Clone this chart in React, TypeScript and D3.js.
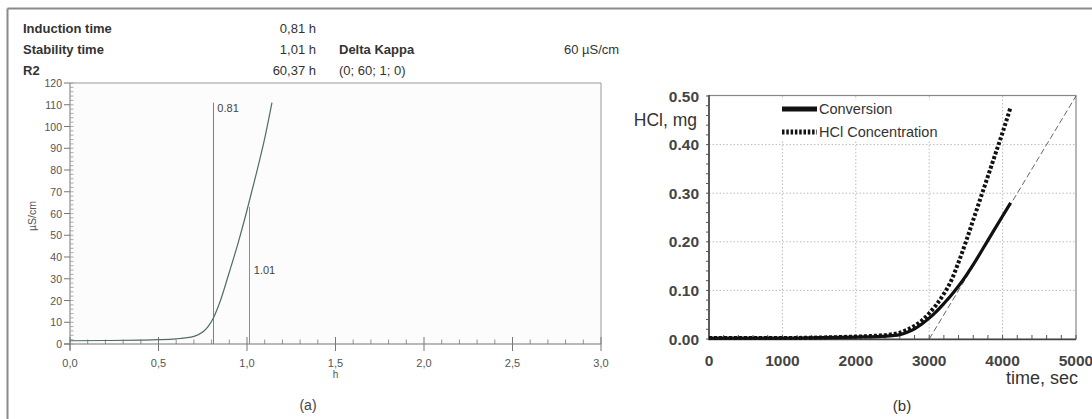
import React from "react";
import * as d3 from "d3";

// ---------- Panel (a) data ----------
const aHours = [0, 0.2, 0.4, 0.5, 0.6, 0.65, 0.7, 0.75, 0.78, 0.81, 0.85, 0.9, 0.95, 1.0, 1.05, 1.1, 1.141];
const aKappa = [1.5, 1.6, 1.8, 2.0, 2.4, 2.8, 3.5, 5.5, 8.0, 12, 20, 33, 46.5, 61.5, 77.5, 94.5, 111];
const aXTicks = [0, 0.5, 1.0, 1.5, 2.0, 2.5, 3.0];
const aXTickLabels = ["0,0", "0,5", "1,0", "1,5", "2,0", "2,5", "3,0"];
const aYTicks = [0, 10, 20, 30, 40, 50, 60, 70, 80, 90, 100, 110, 120];
const aMarkers = [
  { x: 0.81, top: 111, label: "0.81" },
  { x: 1.01, top: 63, label: "1.01" },
];
const headerRows = [
  { label: "Induction time", value: "0,81 h", label2: "", value2: "" },
  { label: "Stability time", value: "1,01 h", label2: "Delta Kappa", value2: "60 µS/cm" },
  { label: "R2", value: "60,37 h", label2: "(0; 60; 1; 0)", value2: "" },
];

// ---------- Panel (b) data ----------
const bTime = [0, 500, 1000, 1500, 2000, 2300, 2500, 2600, 2700, 2800, 2900, 3000, 3100, 3200, 3300, 3400, 3500, 3600, 3800, 4000, 4109];
const bConversion = [0.002, 0.002, 0.002, 0.003, 0.004, 0.005, 0.007, 0.009, 0.014, 0.021, 0.031, 0.043, 0.057, 0.073, 0.09, 0.109, 0.13, 0.153, 0.203, 0.253, 0.28];
const hTime = [0, 500, 1000, 1500, 2000, 2300, 2500, 2600, 2700, 2800, 2900, 3000, 3100, 3200, 3300, 3400, 3500, 3600, 3700, 3800, 3900, 4000, 4109];
const hHCl = [0.002, 0.002, 0.002, 0.003, 0.005, 0.007, 0.01, 0.013, 0.019, 0.027, 0.038, 0.053, 0.071, 0.093, 0.12, 0.158, 0.2, 0.245, 0.29, 0.335, 0.38, 0.425, 0.477];
const tangentX = [3000, 5000];
const tangentY = [0, 0.5];
const bXTicks = [0, 1000, 2000, 3000, 4000, 5000];
const bYTicks = [0, 0.1, 0.2, 0.3, 0.4, 0.5];
const legendItems = ["Conversion", "HCl Concentration"];

export default function App() {
  // scales (a)
  const ax = d3.scaleLinear().domain([0, 3]).range([70, 601]);
  const ay = d3.scaleLinear().domain([0, 120]).range([344, 83]);
  const aLine = d3
    .line<number>()
    .x((_, i) => ax(aHours[i]))
    .y((d) => ay(d))
    .curve(d3.curveMonotoneX);

  // scales (b)
  const bx = d3.scaleLinear().domain([0, 5000]).range([709, 1076]);
  const by = d3.scaleLinear().domain([0, 0.5]).range([339, 96]);
  const convLine = d3
    .line<number>()
    .x((_, i) => bx(bTime[i]))
    .y((d) => by(d))
    .curve(d3.curveMonotoneX);
  const hclLine = d3
    .line<number>()
    .x((_, i) => bx(hTime[i]))
    .y((d) => by(d))
    .curve(d3.curveMonotoneX);

  const aMinorX = d3.range(0, 31).map((i) => i / 10).filter((v) => Math.round(v * 10) % 5 !== 0);
  const aMinorY = d3.range(0, 61).map((i) => i * 2);
  const bMinorX = d3.range(0, 26).map((i) => i * 200);
  const bMinorY = d3.range(0, 26).map((i) => i * 0.02);

  const font = "'Liberation Sans', Arial, sans-serif";
  const rowY = [33, 54, 75];

  return (
    <svg
      width={1092}
      height={419}
      style={{ position: "absolute", left: 0, top: 0, background: "#fff" }}
      fontFamily={font}
    >
      {/* outer frame */}
      <line x1={7.5} y1={8.5} x2={1092} y2={8.5} stroke="#8a8a8a" strokeWidth={2} />
      <line x1={7.5} y1={8.5} x2={7.5} y2={419} stroke="#8a8a8a" strokeWidth={2} />

      {/* header */}
      {headerRows.map((r, i) => (
        <g key={i} fontSize={13} fill="#333">
          <text x={23} y={rowY[i]} fontWeight="bold">{r.label}</text>
          <text x={316} y={rowY[i]} textAnchor="end">{r.value}</text>
          {r.label2 && (
            <text x={339} y={rowY[i]} fontWeight={i === 1 ? "bold" : "normal"}>{r.label2}</text>
          )}
          {r.value2 && <text x={564} y={rowY[i]}>{r.value2}</text>}
        </g>
      ))}

      {/* ---------- Panel (a) ---------- */}
      <rect x={70} y={83} width={531} height={261} fill="#fcfcfc" />
      <line x1={70} y1={83} x2={601} y2={83} stroke="#999" />
      <line x1={601} y1={83} x2={601} y2={344} stroke="#999" />
      <line x1={70} y1={83} x2={70} y2={350} stroke="#777" />
      <line x1={64} y1={344} x2={601} y2={344} stroke="#777" />
      {aMinorY.map((v) => (
        <line key={"amy" + v} x1={70} x2={73.5} y1={ay(v)} y2={ay(v)} stroke="#999" strokeWidth={0.8} />
      ))}
      {aYTicks.map((v) => (
        <g key={"ay" + v}>
          <line x1={64} x2={70} y1={ay(v)} y2={ay(v)} stroke="#777" />
          <text x={62} y={ay(v) + 4} textAnchor="end" fontSize={10.5} fill="#555">{v}</text>
        </g>
      ))}
      {aMinorX.map((v) => (
        <line key={"amx" + v} x1={ax(v)} x2={ax(v)} y1={344} y2={339.5} stroke="#777" strokeWidth={0.8} />
      ))}
      {aXTicks.map((v, i) => (
        <g key={"ax" + v}>
          <line x1={ax(v)} x2={ax(v)} y1={337} y2={351} stroke="#777" />
          <text x={ax(v)} y={367} textAnchor="middle" fontSize={11} fill="#555">{aXTickLabels[i]}</text>
        </g>
      ))}
      <text x={ax(1.5)} y={378} textAnchor="middle" fontSize={10} fill="#555">h</text>
      <text
        transform={`translate(36,${216}) rotate(-90)`}
        textAnchor="middle"
        fontSize={10.5}
        fill="#555"
      >
        µS/cm
      </text>
      {/* markers */}
      <rect
        x={Math.round(ax(aMarkers[0].x))}
        y={ay(aMarkers[0].top)}
        width={1}
        height={344 - ay(aMarkers[0].top)}
        fill="#e65555"
      />
      <rect
        x={Math.round(ax(aMarkers[1].x))}
        y={ay(aMarkers[1].top)}
        width={1}
        height={344 - ay(aMarkers[1].top)}
        fill="#8c8c8c"
      />
      <text x={ax(aMarkers[0].x) + 4} y={112} fontSize={11} fill="#444">{aMarkers[0].label}</text>
      <text x={ax(aMarkers[1].x) + 5} y={274} fontSize={11} fill="#444">{aMarkers[1].label}</text>
      <path d={aLine(aKappa) || ""} fill="none" stroke="#4d6e60" strokeWidth={1.2} />
      <text x={308} y={410} textAnchor="middle" fontSize={14} fill="#444">(a)</text>

      {/* ---------- Panel (b) ---------- */}
      {/* grid */}
      {[1000, 2000, 3000, 4000].map((v) => (
        <line key={"bgx" + v} x1={bx(v)} x2={bx(v)} y1={96} y2={339} stroke="#bbb" strokeDasharray="1.5,2" />
      ))}
      {[0.1, 0.2, 0.3, 0.4].map((v) => (
        <line key={"bgy" + v} x1={709} x2={1076} y1={by(v)} y2={by(v)} stroke="#bbb" strokeDasharray="1.5,2" />
      ))}
      <rect x={709} y={95.5} width={367} height={243.5} fill="none" stroke="#888" strokeWidth={1.2} />
      <line x1={709} y1={95} x2={709} y2={340} stroke="#444" strokeWidth={1.6} />
      <line x1={708} y1={339.5} x2={1076} y2={339.5} stroke="#444" strokeWidth={1.6} />
      {bMinorY.map((v, i) => (
        <line key={"bmy" + i} x1={706} x2={709} y1={by(v)} y2={by(v)} stroke="#555" strokeWidth={1} />
      ))}
      {bMinorX.map((v) => (
        <line key={"bmx" + v} x1={bx(v)} x2={bx(v)} y1={339} y2={335} stroke="#555" strokeWidth={1} />
      ))}
      {bYTicks.map((v) => (
        <text key={"by" + v} x={699} y={by(v) + 5.5} textAnchor="end" fontSize={15.5} fontWeight="bold" fill="#444">
          {v.toFixed(2)}
        </text>
      ))}
      {bXTicks.map((v) => (
        <text key={"bx" + v} x={bx(v)} y={366} textAnchor="middle" fontSize={15.5} fontWeight="bold" fill="#444">
          {v}
        </text>
      ))}
      <text x={697} y={126} textAnchor="end" fontSize={17.5} fill="#333">HCl, mg</text>
      <text x={1078} y={384} textAnchor="end" fontSize={18} fill="#333">time, sec</text>

      {/* tangent */}
      <line
        x1={bx(tangentX[0])}
        y1={by(tangentY[0])}
        x2={bx(tangentX[1])}
        y2={by(tangentY[1])}
        stroke="#555"
        strokeWidth={0.9}
        strokeDasharray="6,3"
      />
      <path d={hclLine(hHCl) || ""} fill="none" stroke="#111" strokeWidth={4} strokeDasharray="3,2" />
      <path d={convLine(bConversion) || ""} fill="none" stroke="#111" strokeWidth={3.2} />

      {/* legend */}
      <rect x={778} y={100} width={165} height={40} fill="#fff" />
      <line x1={782} x2={817} y1={109} y2={109} stroke="#111" strokeWidth={5} />
      <line x1={782} x2={817} y1={132} y2={132} stroke="#111" strokeWidth={5} strokeDasharray="2.5,1.8" />
      <text x={819} y={114} fontSize={14.5} fill="#333">{legendItems[0]}</text>
      <text x={819} y={137} fontSize={14.5} fill="#333">{legendItems[1]}</text>

      <text x={902} y={411} textAnchor="middle" fontSize={15} fill="#333">(b)</text>
    </svg>
  );
}
